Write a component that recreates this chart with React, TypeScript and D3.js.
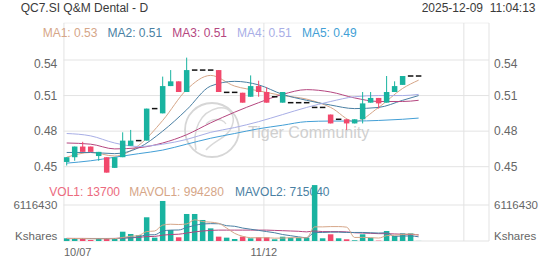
import React from 'react';
import * as d3 from 'd3';

const W = 552;
const H = 265;

// OHLC per trading day (10/07 .. 12/09)
const opens = [0.454, 0.458, 0.467, 0.467, 0.459, 0.458, 0.449, 0.458, 0.4676, 0.472, 0.472, 0.499, 0.495, 0.518, 0.522, 0.513, 0.5315, 0.5315, 0.5315, 0.5315, 0.5127, 0.5127, 0.5124, 0.509, 0.518, 0.513, 0.509, 0.504, 0.504, 0.504, 0.504, 0.5, 0.5, 0.494, 0.49, 0.49, 0.4865, 0.49, 0.504, 0.508, 0.504, 0.513, 0.519, 0.5265, 0.5265];
const highs = [0.458, 0.467, 0.471, 0.467, 0.4625, 0.458, 0.458, 0.479, 0.481, 0.472, 0.499, 0.499, 0.526, 0.5315, 0.522, 0.542, 0.5315, 0.5315, 0.5315, 0.5315, 0.5127, 0.5127, 0.5124, 0.527, 0.5225, 0.517, 0.509, 0.513, 0.504, 0.504, 0.504, 0.5, 0.5, 0.494, 0.49, 0.49, 0.49, 0.513, 0.513, 0.508, 0.5265, 0.522, 0.5265, 0.5265, 0.5265];
const lows = [0.451, 0.455, 0.4625, 0.4625, 0.455, 0.445, 0.449, 0.458, 0.4676, 0.472, 0.472, 0.499, 0.495, 0.518, 0.513, 0.513, 0.5315, 0.5315, 0.5315, 0.513, 0.5127, 0.5127, 0.504, 0.509, 0.509, 0.504, 0.509, 0.504, 0.504, 0.504, 0.504, 0.5, 0.5, 0.4865, 0.49, 0.481, 0.4865, 0.4865, 0.504, 0.499, 0.504, 0.513, 0.519, 0.5265, 0.5265];
const closes = [0.458, 0.467, 0.4625, 0.4625, 0.4625, 0.445, 0.458, 0.472, 0.472, 0.472, 0.499, 0.499, 0.518, 0.522, 0.513, 0.5315, 0.5315, 0.5315, 0.5315, 0.513, 0.5127, 0.5127, 0.504, 0.518, 0.513, 0.504, 0.509, 0.513, 0.504, 0.504, 0.504, 0.5, 0.5, 0.4865, 0.49, 0.4865, 0.49, 0.5034, 0.508, 0.5034, 0.513, 0.518, 0.5265, 0.5265, 0.5265];
const volumes = [460e3, 460e3, 460e3, 170e3, 400e3, 400e3, 460e3, 1580e3, 1190e3, 1020e3, 4030e3, 570e3, 6800e3, 1870e3, 630e3, 4590e3, 4590e3, 3570e3, 2150e3, 740e3, 570e3, 340e3, 740e3, 460e3, 630e3, 630e3, 290e3, 730e3, 560e3, 560e3, 560e3, 9500e3, 460e3, 1140e3, 460e3, 290e3, 120e3, 1140e3, 560e3, 60e3, 1700e3, 850e3, 1300e3, 1300e3, 13700];

// price moving averages, read at sampled day indices
const maIdx = [0, 3, 6, 9, 12, 15, 18, 21, 24, 27, 30, 33, 36, 39, 42, 44];
const ma1 = [0.458, 0.462, 0.459, 0.468, 0.489, 0.515, 0.527, 0.518, 0.514, 0.51, 0.507, 0.5, 0.488, 0.5, 0.516, 0.523];
const ma2 = [0.462, 0.462, 0.461, 0.466, 0.48, 0.498, 0.518, 0.522, 0.519, 0.511, 0.506, 0.502, 0.499, 0.5, 0.506, 0.51];
const ma3 = [0.47, 0.469, 0.465, 0.466, 0.47, 0.477, 0.487, 0.496, 0.504, 0.511, 0.515, 0.513, 0.508, 0.505, 0.505, 0.506];
const ma4 = [0.478, 0.476, 0.47, 0.467, 0.469, 0.473, 0.479, 0.483, 0.488, 0.494, 0.5, 0.505, 0.509, 0.51, 0.51, 0.511];
const ma5 = [0.453, 0.455, 0.458, 0.461, 0.464, 0.469, 0.474, 0.478, 0.482, 0.485, 0.488, 0.4885, 0.4885, 0.489, 0.49, 0.491];

// volume moving averages per day
const mavol1 = [430e3, 420e3, 420e3, 380e3, 380e3, 380e3, 400e3, 600e3, 800e3, 930e3, 1600e3, 1700e3, 2700e3, 2850e3, 2800e3, 2900e3, 3600e3, 3300e3, 3200e3, 3000e3, 2200e3, 1300e3, 800e3, 560e3, 540e3, 560e3, 480e3, 500e3, 560e3, 560e3, 540e3, 2400e3, 2400e3, 2450e3, 2450e3, 2350e3, 600e3, 620e3, 560e3, 500e3, 900e3, 1000e3, 1100e3, 1200e3, 994280];
const mavol2 = [400e3, 400e3, 400e3, 400e3, 400e3, 400e3, 400e3, 500e3, 600e3, 700e3, 1050e3, 1060e3, 1700e3, 1850e3, 1870e3, 2300e3, 2650e3, 2900e3, 2950e3, 2930e3, 2600e3, 2500e3, 2200e3, 2000e3, 1800e3, 1600e3, 1400e3, 1100e3, 900e3, 700e3, 560e3, 1450e3, 1450e3, 1500e3, 1500e3, 1450e3, 1450e3, 1450e3, 1400e3, 1350e3, 1400e3, 800e3, 850e3, 850e3, 715040];
const mavol3 = [450e3, 440e3, 440e3, 430e3, 430e3, 430e3, 440e3, 500e3, 550e3, 600e3, 750e3, 780e3, 1000e3, 1100e3, 1150e3, 1350e3, 1550e3, 1700e3, 1800e3, 1850e3, 1850e3, 1850e3, 1850e3, 1850e3, 1850e3, 1850e3, 1800e3, 1750e3, 1700e3, 1650e3, 1550e3, 1700e3, 1600e3, 1600e3, 1600e3, 1550e3, 1400e3, 1350e3, 1300e3, 1250e3, 1250e3, 1200e3, 1150e3, 1100e3, 1050e3];

const dateLabels = ['10/07', '11/12'];
const dateIdx = [0, 25];
const gridIdx = [0, 25, 50];
const priceTicks = [0.45, 0.48, 0.51, 0.54];
const volTop = 6116430;

const maNames = ['MA1: 0.53', 'MA2: 0.51', 'MA3: 0.51', 'MA4: 0.51', 'MA5: 0.49'];
const maColors = ['#d6a688', '#4a7fa3', '#b5467f', '#a8aee6', '#439fd6'];
const volLegend = ['VOL1: 13700', 'MAVOL1: 994280', 'MAVOL2: 715040'];
const volLegendColors = ['#ec6a7e', '#d6a688', '#4a7fa3'];

const UP = '#19b3a0';
const DOWN = '#f2486c';
const GRID = '#e3e3e3';
const FONT = 'Liberation Sans, Arial, sans-serif';

export default function App() {
  const x = d3.scaleLinear().domain([-0.4, 52.8]).range([63.5, 489]);
  const y = d3.scaleLinear().domain([0.45, 0.54]).range([166.7, 60]);
  const yv = d3.scaleLinear().domain([0, volTop]).range([241, 205]);
  const bw = 5.5;
  const [left, right] = x.range();
  const top = 23;
  const bottom = yv(0);

  const maLine = d3
    .line<number>()
    .x((_, k) => x(maIdx[k]))
    .y((v) => y(v))
    .curve(d3.curveMonotoneX);
  const volLine = d3
    .line<number>()
    .x((_, k) => x(k))
    .y((v) => yv(v))
    .curve(d3.curveMonotoneX);

  const mas = [ma1, ma2, ma3, ma4, ma5];

  return (
    <svg
      width={W}
      height={H}
      style={{ position: 'fixed', left: 0, top: 0, background: '#fff' }}
      fontFamily={FONT}
    >
      <rect x={0} y={0} width={W} height={H} fill="#fff" />
      {/* header */}
      <text x={20.7} y={12.3} fontSize={12} fill="#3a3a3a">QC7.SI Q&amp;M Dental - D</text>
      <text x={535.5} y={12.3} fontSize={12} fill="#3a3a3a" textAnchor="end" style={{ whiteSpace: 'pre' }}>
        {'2025-12-09  11:04:13'}
      </text>

      {/* grid */}
      <line x1={left} x2={right} y1={top} y2={top} stroke="#f0f0f0" />
      {gridIdx.map((g) => (
        <line key={'vg' + g} x1={x(g) - bw / 2} x2={x(g) - bw / 2} y1={top} y2={bottom} stroke={GRID} />
      ))}
      <line x1={right} x2={right} y1={top} y2={bottom} stroke={GRID} />
      {priceTicks.map((t) => (
        <line key={'hg' + t} x1={left} x2={right} y1={y(t)} y2={y(t)} stroke={GRID} />
      ))}
      <line x1={left} x2={right} y1={yv(volTop)} y2={yv(volTop)} stroke={GRID} />
      <line x1={left} x2={right} y1={yv(0)} y2={yv(0)} stroke={GRID} />

      {/* price labels */}
      {priceTicks.map((t) => {
        const yy = Math.max(y(t), 64);
        return (
          <g key={'pl' + t}>
            <text x={57.3} y={yy} dy="0.35em" fontSize={12} fill="#666" textAnchor="end">{t.toFixed(2)}</text>
            <text x={494} y={yy} dy="0.35em" fontSize={12} fill="#666">{t.toFixed(2)}</text>
          </g>
        );
      })}
      <text x={57.3} y={yv(volTop)} dy="0.35em" fontSize={11.5} fill="#666" textAnchor="end">{volTop}</text>
      <text x={494} y={yv(volTop)} dy="0.35em" fontSize={11.5} fill="#666">{volTop}</text>
      <text x={57.3} y={239.5} fontSize={11.5} fill="#666" textAnchor="end">Kshares</text>
      <text x={494} y={239.5} fontSize={11.5} fill="#666">Kshares</text>

      {/* date labels */}
      {dateIdx.map((d, k) => (
        <text key={'dl' + d} x={x(d) - bw / 2} y={256} fontSize={11} fill="#666" textAnchor={k === 0 ? 'start' : 'middle'}>
          {dateLabels[k]}
        </text>
      ))}

      {/* watermark */}
      <g>
        <circle cx={212} cy={130} r={27} fill="none" stroke="#d6d6d6" strokeWidth={1.8} />
        <path d="M196,150 C192,130 200,112 218,108 C230,106 236,116 232,126 C228,138 214,140 206,150" fill="none" stroke="#d9d9d9" strokeWidth={1.5} />
        <path d="M206,124 C212,118 222,118 226,124" fill="none" stroke="#d9d9d9" strokeWidth={1.3} />
        <text x={248} y={137.5} fontSize={16} fill="#cfcfcf">Tiger Community</text>
      </g>

      {/* MA legend */}
      {maNames.map((n, k) => (
        <text key={n} x={42.7 + k * 64.8} y={37.3} fontSize={12} fill={maColors[k]}>{n}</text>
      ))}

      {/* volume legend */}
      {volLegend.map((n, k) => (
        <text key={n} x={[49.3, 129.3, 235][k]} y={196} fontSize={12} fill={volLegendColors[k]}>{n}</text>
      ))}

      {/* MA lines */}
      {mas.map((m, k) => (
        <path key={'ma' + k} d={maLine(m) || ''} fill="none" stroke={maColors[k]} strokeWidth={1} />
      ))}

      {/* candles */}
      {opens.map((o, i) => {
        const c = closes[i];
        const cx = x(i);
        if (o === c) {
          return <rect key={'c' + i} x={cx - bw / 2} y={y(c) - 0.75} width={bw} height={1.5} fill="#111" />;
        }
        const col = c > o ? UP : DOWN;
        const y0 = y(Math.max(o, c));
        const y1 = y(Math.min(o, c));
        return (
          <g key={'c' + i}>
            <line x1={cx} x2={cx} y1={y(highs[i])} y2={y(lows[i])} stroke={col} strokeWidth={1} />
            <rect x={cx - bw / 2} y={y0} width={bw} height={Math.max(1, y1 - y0)} fill={col} />
          </g>
        );
      })}

      {/* volume bars */}
      {volumes.map((v, i) => {
        const col = closes[i] >= opens[i] ? UP : DOWN;
        return <rect key={'v' + i} x={x(i) - bw / 2} y={yv(v)} width={bw} height={yv(0) - yv(v)} fill={col} />;
      })}

      {/* volume MAs */}
      <path d={volLine(mavol3) || ''} fill="none" stroke={maColors[2]} strokeWidth={1} />
      <path d={volLine(mavol2) || ''} fill="none" stroke={maColors[1]} strokeWidth={1} />
      <path d={volLine(mavol1) || ''} fill="none" stroke={maColors[0]} strokeWidth={1} />
    </svg>
  );
}
